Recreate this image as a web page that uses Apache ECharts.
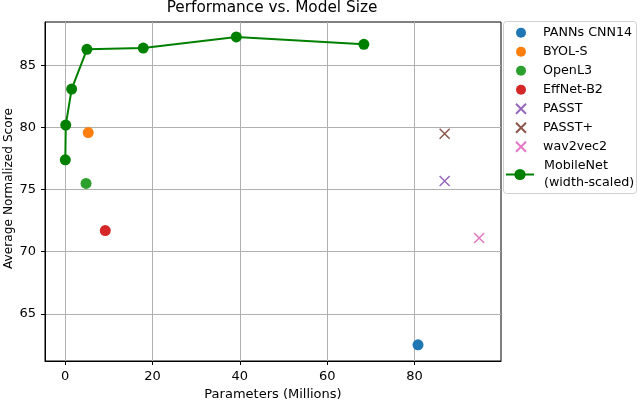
<!DOCTYPE html>
<html>
<head>
<meta charset="utf-8">
<script src="https://cdn.jsdelivr.net/npm/echarts@6/dist/echarts.min.js"></script>
<style>html,body{margin:0;padding:0;background:#fff}#c{width:640px;height:400px}</style>
</head>
<body>
<div id="c"></div>
<script>
const models = ['PANNs CNN14', 'BYOL-S', 'OpenL3', 'EffNet-B2', 'PASST', 'PASST+', 'wav2vec2'];
const modelParams = [80.8, 5.3, 4.8, 9.2, 86.9, 86.9, 94.8];
const modelScores = [62.5, 79.6, 75.5, 71.7, 75.7, 79.5, 71.1];
const modelMarkers = ['circle', 'circle', 'circle', 'circle', 'x', 'x', 'x'];
const modelColors = ['#1f77b4', '#ff7f0e', '#2ca02c', '#d62728', '#9467bd', '#8c564b', '#e377c2'];
const mobileName = 'MobileNet\n(width-scaled)';
const mobileParams = [0.05, 0.15, 1.5, 5.0, 17.9, 39.2, 68.4];
const mobileScores = [77.4, 80.2, 83.1, 86.3, 86.4, 87.3, 86.7];
const xTicks = [0, 20, 40, 60, 80];
const yTicks = [65, 70, 75, 80, 85];

const FONT = 'DejaVu Sans';
const X_PATH = 'path://M0,0L10,10M10,0L0,10';

const series = models.map((m, i) => {
  const isX = modelMarkers[i] === 'x';
  return {
    name: m,
    type: 'scatter',
    data: [[modelParams[i], modelScores[i]]],
    symbol: isX ? X_PATH : 'circle',
    symbolSize: isX ? 10 : 11,
    itemStyle: isX ? { color: 'rgba(0,0,0,0)', borderColor: modelColors[i], borderWidth: 1.5, opacity: 1 }
                   : { color: modelColors[i], opacity: 1 },
    z: 3
  };
});
series.push({
  name: mobileName,
  type: 'line',
  data: mobileParams.map((p, i) => [p, mobileScores[i]]),
  symbol: 'circle',
  symbolSize: 11,
  showSymbol: true,
  lineStyle: { color: '#008000', width: 2 },
  itemStyle: { color: '#008000' },
  z: 4
});

const legendText = { fontFamily: FONT, fontSize: 12.7, color: '#000' };

const chart = echarts.init(document.getElementById('c'), null, { renderer: 'canvas' });
chart.setOption({
  animation: false,
  backgroundColor: '#fff',
  textStyle: { fontFamily: FONT },
  title: {
    text: 'Performance vs. Model Size',
    left: 267, top: -4, textAlign: 'center',
    textStyle: { fontFamily: FONT, fontSize: 15.3, fontWeight: 'normal', color: '#000' }
  },
  graphic: [{
    type: 'rect', z: 0, silent: true,
    shape: { x: 503.5, y: 21.5, width: 133, height: 172, r: 3 },
    style: { fill: '#fff', stroke: '#d0d0d0', lineWidth: 1 }
  }],
  grid: {
    left: 45, right: 139, top: 22, bottom: 39,
    outerBoundsMode: 'none', containLabel: false,
    show: true, borderColor: '#000', borderWidth: 1, backgroundColor: 'transparent'
  },
  legend: [{
    orient: 'vertical',
    left: 515, top: 24.7,
    padding: 0,
    itemWidth: 28, itemHeight: 10, itemGap: 3,
    textStyle: Object.assign({ lineHeight: 16, padding: [0, 0, 0, 3] }, legendText),
    data: models
  }, {
    orient: 'vertical',
    left: 505, top: 157.5,
    padding: 0,
    itemWidth: 28, itemHeight: 14, itemGap: 3,
    textStyle: Object.assign({ lineHeight: 17, padding: [0, 0, 0, 5] }, legendText),
    data: [mobileName]
  }],
  xAxis: {
    type: 'value', min: -4.6, max: 99.8,
    name: 'Parameters (Millions)', nameLocation: 'middle', nameGap: 25,
    nameTextStyle: { fontFamily: FONT, fontSize: 13, color: '#000' },
    axisLine: { show: true, onZero: false, lineStyle: { color: '#000', width: 1 } },
    axisTick: { show: true, length: 4, customValues: xTicks, lineStyle: { color: '#000' } },
    axisLabel: { customValues: xTicks, fontFamily: FONT, fontSize: 13, color: '#000', margin: 9 },
    splitLine: { show: true, lineStyle: { color: '#b0b0b0', width: 1 } }
  },
  yAxis: {
    type: 'value', min: 61.2, max: 88.5,
    name: 'Average Normalized Score', nameLocation: 'middle', nameGap: 30, nameRotate: 90,
    nameMoveOverlap: false,
    nameTextStyle: { fontFamily: FONT, fontSize: 12.2, color: '#000', padding: [0, 0, 0, 6] },
    axisLine: { show: true, onZero: false, lineStyle: { color: '#000', width: 1 } },
    axisTick: { show: true, length: 4, customValues: yTicks, lineStyle: { color: '#000' } },
    axisLabel: { customValues: yTicks, fontFamily: FONT, fontSize: 13, color: '#000', margin: 9 },
    splitLine: { show: true, lineStyle: { color: '#b0b0b0', width: 1 } }
  },
  series: series
});
</script>
</body>
</html>
